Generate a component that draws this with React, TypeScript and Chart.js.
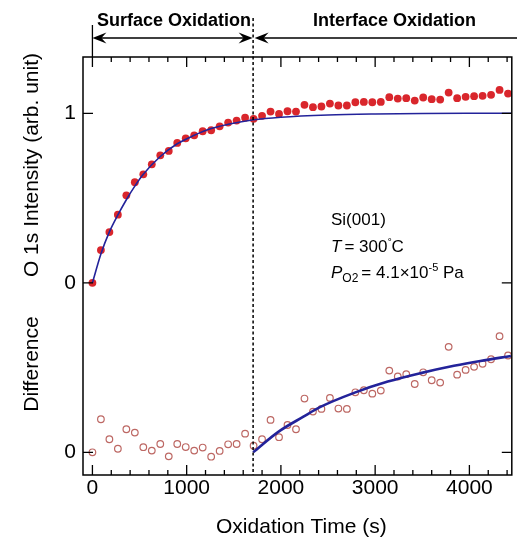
import React, { useEffect, useRef } from "react";
import { Chart, registerables } from "chart.js";

Chart.register(...registerables);

// ---- data ----
const times = [
  0, 90, 180, 270, 360, 450, 540, 630, 720, 810,
  900, 990, 1080, 1170, 1260, 1350, 1440, 1530, 1620, 1710,
  1800, 1890, 1980, 2070, 2160, 2250, 2340, 2430, 2520, 2610,
  2700, 2790, 2880, 2970, 3060, 3150, 3240, 3330, 3420, 3510,
  3600, 3690, 3780, 3870, 3960, 4050, 4140, 4230, 4320, 4410,
];

const intensity = [
  0.0, 0.193, 0.299, 0.402, 0.516, 0.593, 0.64, 0.699, 0.752, 0.778,
  0.825, 0.852, 0.87, 0.894, 0.9, 0.923, 0.945, 0.957, 0.974, 0.967,
  0.985, 1.01, 0.996, 1.012, 1.01, 1.05, 1.036, 1.04, 1.057, 1.046,
  1.046, 1.065, 1.067, 1.065, 1.067, 1.095, 1.087, 1.089, 1.075, 1.093,
  1.083, 1.081, 1.122, 1.089, 1.097, 1.101, 1.103, 1.109, 1.138, 1.116,
];

const difference = [
  0.0, 0.195, 0.077, 0.021, 0.136, 0.116, 0.03, 0.01, 0.049, -0.024,
  0.049, 0.031, 0.01, 0.028, -0.026, 0.008, 0.047, 0.049, 0.11, 0.039,
  0.077, 0.191, 0.089, 0.161, 0.136, 0.317, 0.24, 0.256, 0.321, 0.258,
  0.256, 0.354, 0.366, 0.346, 0.364, 0.482, 0.447, 0.461, 0.403, 0.472,
  0.425, 0.411, 0.622, 0.458, 0.486, 0.504, 0.522, 0.549, 0.685, 0.571,
];

// surface-oxidation fit curve
const fitTimes = [0, 90, 180, 270, 360, 450, 540, 720, 900, 1080, 1260, 1440, 1710, 2000, 2500, 3000, 3500, 4000, 4450];
const fitValues = [0, 0.17, 0.3, 0.4, 0.49, 0.57, 0.64, 0.745, 0.82, 0.87, 0.91, 0.935, 0.962, 0.977, 0.99, 0.996, 0.999, 1.0, 1.0];

// interface-oxidation difference fit curve
const diffFitTimes = [1705, 1976, 2239, 2414, 2783, 3134, 3484, 3836, 4116, 4440];
const diffFitValues = [0.0, 0.122, 0.21, 0.266, 0.352, 0.417, 0.467, 0.51, 0.539, 0.568];

const boundaryTime = 1705;
const xTicks = [0, 1000, 2000, 3000, 4000];
const yTicks = [-1, 0, 1];
const yTickLabels = ["0", "0", "1"];
const minorStep = 200;

const X_MIN = -100;
const X_MAX = 4450;
const Y_MIN = -1.134;
const Y_MAX = 1.332;
const DIFF_OFFSET = 1; // difference panel sits one unit below intensity zero

const FONT = "'Liberation Sans', Arial, Helvetica, sans-serif";
const RED = "#d9262c";
const HOLLOW = "#bd6864";
const BLUE = "#23239a";

const decorPlugin = {
  id: "decor",
  afterDatasetsDraw(chart: any) {
    const { ctx, chartArea, scales } = chart;
    const xs = scales.x;
    const ys = scales.y;
    const { left, right, top, bottom } = chartArea;
    ctx.save();
    ctx.strokeStyle = "#000";
    ctx.fillStyle = "#000";

    // frame
    ctx.lineWidth = 1.5;
    ctx.strokeRect(left, top, right - left, bottom - top);

    // x ticks (inward, top and bottom)
    ctx.lineWidth = 1.3;
    for (let v = 0; v <= X_MAX; v += minorStep) {
      const px = xs.getPixelForValue(v);
      const major = v % 1000 === 0;
      const len = major ? 10 : 5;
      ctx.beginPath();
      ctx.moveTo(px, bottom);
      ctx.lineTo(px, bottom - len);
      ctx.moveTo(px, top);
      ctx.lineTo(px, top + len);
      ctx.stroke();
    }
    // y ticks (inward, both sides)
    for (const v of yTicks) {
      const py = ys.getPixelForValue(v);
      ctx.beginPath();
      ctx.moveTo(left, py);
      ctx.lineTo(left + 10, py);
      ctx.moveTo(right, py);
      ctx.lineTo(right - 10, py);
      ctx.stroke();
    }

    // boundary dashed line
    const bx = xs.getPixelForValue(boundaryTime);
    ctx.save();
    ctx.setLineDash([3, 2.5]);
    ctx.lineWidth = 1.5;
    ctx.beginPath();
    ctx.moveTo(bx, 18);
    ctx.lineTo(bx, bottom);
    ctx.stroke();
    ctx.restore();

    // header arrows
    const x0 = xs.getPixelForValue(0);
    const ay = 38;
    ctx.lineWidth = 1.3;
    ctx.beginPath();
    ctx.moveTo(x0, 25);
    ctx.lineTo(x0, top);
    ctx.stroke();
    ctx.beginPath();
    ctx.moveTo(x0 + 4, ay);
    ctx.lineTo(bx - 4, ay);
    ctx.moveTo(bx + 5, ay);
    ctx.lineTo(chart.width, ay);
    ctx.stroke();
    const head = (tip: number, dir: number) => {
      ctx.beginPath();
      ctx.moveTo(tip, ay);
      ctx.lineTo(tip - dir * 14, ay - 5.5);
      ctx.lineTo(tip - dir * 9, ay);
      ctx.lineTo(tip - dir * 14, ay + 5.5);
      ctx.closePath();
      ctx.fill();
    };
    head(x0, -1);
    head(bx - 0.5, 1);
    head(bx + 1.5, -1);

    ctx.font = `bold 18px ${FONT}`;
    ctx.textBaseline = "alphabetic";
    ctx.textAlign = "left";
    ctx.fillText("Surface Oxidation", 97, 26);
    ctx.fillText("Interface Oxidation", 313, 26);

    // annotation
    const ax = 331;
    ctx.font = `17px ${FONT}`;
    ctx.fillText("Si(001)", ax, 225);
    ctx.font = `italic 17px ${FONT}`;
    ctx.fillText("T", ax, 252);
    let cx = ax + ctx.measureText("T").width + 3;
    ctx.font = `17px ${FONT}`;
    ctx.fillText("= 300", cx, 252);
    cx += ctx.measureText("= 300").width + 0.5;
    ctx.font = `12px ${FONT}`;
    ctx.fillText("˚", cx, 248);
    cx += ctx.measureText("˚").width - 0.5;
    ctx.font = `17px ${FONT}`;
    ctx.fillText("C", cx, 252);

    ctx.font = `italic 17px ${FONT}`;
    ctx.fillText("P", ax, 278);
    cx = ax + ctx.measureText("P").width;
    ctx.font = `12px ${FONT}`;
    ctx.fillText("O2", cx, 282);
    cx += ctx.measureText("O2").width + 3;
    ctx.font = `17px ${FONT}`;
    ctx.fillText("= 4.1×10", cx, 278);
    cx += ctx.measureText("= 4.1×10").width;
    ctx.font = `11px ${FONT}`;
    ctx.fillText("-5", cx, 271);
    cx += ctx.measureText("-5").width;
    ctx.font = `17px ${FONT}`;
    ctx.fillText(" Pa", cx, 278);

    // axis titles
    ctx.font = `21px ${FONT}`;
    ctx.textAlign = "center";
    ctx.textBaseline = "middle";
    ctx.fillText("Oxidation Time (s)", (left + right) / 2 + 4, 527);
    ctx.save();
    ctx.translate(32, 165);
    ctx.rotate(-Math.PI / 2);
    ctx.fillText("O 1s Intensity (arb. unit)", 0, 0);
    ctx.restore();
    ctx.save();
    ctx.translate(32, 364);
    ctx.rotate(-Math.PI / 2);
    ctx.fillText("Difference", 0, 0);
    ctx.restore();

    ctx.restore();
  },
};

export default function App() {
  const ref = useRef<HTMLCanvasElement | null>(null);

  useEffect(() => {
    if (!ref.current) return;
    const chart = new Chart(ref.current, {
      type: "scatter",
      data: {
        datasets: [
          {
            type: "line",
            data: fitTimes.map((t, i) => ({ x: t, y: fitValues[i] })),
            borderColor: BLUE,
            borderWidth: 1.6,
            pointRadius: 0,
            fill: false,
            cubicInterpolationMode: "monotone",
            yAxisID: "y",
            order: 0,
          },
          {
            type: "line",
            data: diffFitTimes.map((t, i) => ({ x: t, y: diffFitValues[i] })),
            borderColor: BLUE,
            borderWidth: 2.6,
            pointRadius: 0,
            fill: false,
            cubicInterpolationMode: "monotone",
            yAxisID: "yd",
            order: 0,
          },
          {
            data: times.map((t, i) => ({ x: t, y: intensity[i] })),
            backgroundColor: RED,
            borderColor: RED,
            borderWidth: 0,
            pointRadius: 3.9,
            yAxisID: "y",
            order: 1,
          },
          {
            data: times.map((t, i) => ({ x: t, y: difference[i] })),
            backgroundColor: "rgba(255,255,255,0)",
            borderColor: HOLLOW,
            borderWidth: 1.2,
            pointRadius: 3.3,
            yAxisID: "yd",
            order: 1,
          },
        ],
      } as any,
      options: {
        animation: false,
        responsive: false,
        devicePixelRatio: 1,
        layout: { padding: { top: 57, right: 2, left: 0, bottom: 0 } },
        plugins: { legend: { display: false }, tooltip: { enabled: false } },
        scales: {
          x: {
            type: "linear",
            position: "bottom",
            min: X_MIN,
            max: X_MAX,
            grid: { display: false, drawTicks: false },
            border: { display: false },
            afterBuildTicks: (s: any) => {
              s.ticks = xTicks.map((v) => ({ value: v }));
            },
            afterFit: (s: any) => {
              s.height = 64;
            },
            ticks: {
              color: "#000",
              padding: 1,
              font: { family: FONT, size: 21 },
              maxRotation: 0,
              autoSkip: false,
              callback: (v: any) => String(v),
            },
          },
          y: {
            type: "linear",
            position: "left",
            min: Y_MIN,
            max: Y_MAX,
            grid: { display: false, drawTicks: false },
            border: { display: false },
            afterBuildTicks: (s: any) => {
              s.ticks = yTicks.map((v) => ({ value: v }));
            },
            afterFit: (s: any) => {
              s.width = 83;
            },
            ticks: {
              color: "#000",
              padding: 7,
              font: { family: FONT, size: 21 },
              callback: (v: any) => yTickLabels[yTicks.indexOf(Number(v))] ?? "",
            },
          },
          yd: {
            type: "linear",
            display: false,
            min: Y_MIN + DIFF_OFFSET,
            max: Y_MAX + DIFF_OFFSET,
          },
        },
      } as any,
      plugins: [decorPlugin],
    });
    return () => chart.destroy();
  }, []);

  return (
    <div style={{ position: "absolute", left: 0, top: 0, width: 517, height: 539, background: "#fff" }}>
      <canvas ref={ref} width={517} height={539} style={{ display: "block" }} />
    </div>
  );
}
